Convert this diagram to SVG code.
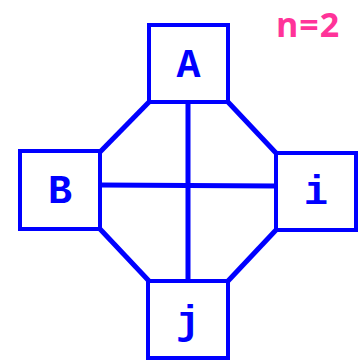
<svg xmlns="http://www.w3.org/2000/svg" width="360" height="361" viewBox="0 0 360 361">
<style>
.box{fill:#fff;stroke:#0000ff;stroke-width:4}
.lbl{font-family:"Liberation Mono","Courier New",monospace;font-weight:bold;font-size:40px;fill:#0000ff;text-anchor:middle}
.edge{stroke:#0000ff;stroke-width:5;fill:none}
</style>
<rect width="360" height="361" fill="#fff"/>
<g id="connectors">
<line class="edge" x1="149" y1="102" x2="100" y2="152"/>
<line class="edge" x1="228" y1="102" x2="276" y2="153"/>
<line class="edge" x1="100" y1="229" x2="149" y2="281"/>
<line class="edge" x1="276" y1="230" x2="228" y2="281"/>
<line class="edge" x1="188" y1="102" x2="188" y2="281"/>
<line class="edge" x1="100" y1="185" x2="276" y2="186"/>
</g>
<g id="A"><rect class="box" x="149" y="25" width="79" height="77"/><text class="lbl" x="188.5" y="77">A</text></g>
<g id="B"><rect class="box" x="20" y="151" width="80" height="78"/><text class="lbl" x="60" y="203">B</text></g>
<g id="i"><rect class="box" x="276" y="153" width="80" height="77"/><text class="lbl" x="316" y="204">i</text></g>
<g id="j"><rect class="box" x="148" y="281" width="80" height="77"/><text class="lbl" x="188" y="334">j</text></g>
<text x="308" y="37" font-family="'Open Sans',sans-serif" font-weight="bold" font-size="34" fill="#ff3399" text-anchor="middle" letter-spacing="1">n=2</text>
</svg>
